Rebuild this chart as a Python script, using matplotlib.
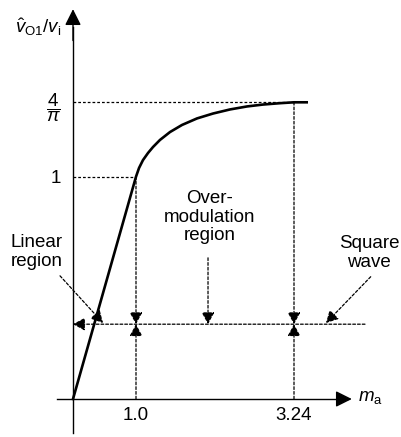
import numpy as np
from matplotlib import pyplot as plt

# Dados (esquemático: índice de modulação vs. amplitude da fundamental)
ma_curve = [0.0, 1.0, 1.043, 1.099, 1.170, 1.241, 1.340, 1.482, 1.652, 1.865,
            2.092, 2.333, 2.574, 2.801, 3.043, 3.24, 3.42]
v_curve = [0.0, 1.0, 1.032, 1.061, 1.087, 1.109, 1.135, 1.164, 1.190, 1.214,
           1.232, 1.247, 1.258, 1.265, 1.270, 4 / np.pi, 4 / np.pi]
x_ticks = [1.0, 3.24]
x_ticklabels = ['1.0', '3.24']
y_ticks = [1.0, 4 / np.pi]
y_ticklabels = ['1', r'$\dfrac{4}{\pi}$']

# Escala do desenho (o eixo não é linear no esquema original)
X_DATA = [-10.0, 0.0, 1.0, 3.24, 20.0]
X_POS = [-557.0, 73.0, 136.0, 294.0, 1475.6]
Y_DATA = [-10.0, 0.0, 1.0, 4 / np.pi, 20.0]
Y_POS = [-2619.0, -399.0, -176.7, -102.3, 5000.8]

W, H = 402, 437

plt.rcParams['font.family'] = ['Liberation Sans', 'DejaVu Sans']
plt.rcParams['mathtext.fontset'] = 'custom'
plt.rcParams['mathtext.rm'] = 'Liberation Sans'
plt.rcParams['mathtext.it'] = 'Liberation Sans:italic'
FS = 13.5
DASH = (0, (2.2, 1.6))


def px(x, y):
    """posição em pixels -> fração da figura"""
    return x / W, 1 - y / H


def seta(ax, xy, xytext):
    """seta tracejada com ponta cheia"""
    ax.annotate('', xy=xy, xytext=xytext,
                arrowprops=dict(arrowstyle='-|>,head_length=0.65,head_width=0.35', color='k', lw=0.9,
                                linestyle=DASH, shrinkA=0, shrinkB=0, mutation_scale=11))


fig = plt.figure(figsize=(W / 100, H / 100), dpi=100)
ax = fig.add_axes([0, 0, 1, 1])
ax.patch.set_alpha(0)

ax.set_xscale('function', functions=(lambda v: np.interp(v, X_DATA, X_POS),
                                     lambda p: np.interp(p, X_POS, X_DATA)))
ax.set_yscale('function', functions=(lambda v: np.interp(v, Y_DATA, Y_POS),
                                     lambda p: np.interp(p, Y_POS, Y_DATA)))
ax.set_xlim(np.interp(0, X_POS, X_DATA), np.interp(W, X_POS, X_DATA))
ax.set_ylim(np.interp(-H, Y_POS, Y_DATA), np.interp(0, Y_POS, Y_DATA))

# Eixos
for side in ['top', 'right']:
    ax.spines[side].set_visible(False)
ax.spines['left'].set_position(('data', 0))
ax.spines['bottom'].set_position(('data', 0))
ax.spines['left'].set_bounds(-0.153, 1.55)
ax.spines['bottom'].set_bounds(-0.254, 4.0)
for side in ['left', 'bottom']:
    ax.spines[side].set_linewidth(1.0)

arrow_axis = dict(arrowstyle='-|>,head_length=0.7,head_width=0.35', color='k', lw=1.0,
                  shrinkA=0, shrinkB=0, mutation_scale=14)
ax.annotate('', xy=(4.06, 0), xytext=(3.9, 0), arrowprops=arrow_axis)
ax.annotate('', xy=(0, 1.615), xytext=(0, 1.5), arrowprops=arrow_axis)

ax.set_xticks(x_ticks)
ax.set_xticklabels(x_ticklabels, fontsize=FS)
ax.set_yticks(y_ticks)
ax.set_yticklabels(y_ticklabels, fontsize=FS)
ax.tick_params(axis='x', length=0, pad=6)
ax.tick_params(axis='y', length=0, pad=9)

# Curva
ax.plot(ma_curve, v_curve, color='k', lw=1.9, solid_joinstyle='round', zorder=3)

# Linhas auxiliares
ax.plot([0, x_ticks[0]], [y_ticks[0], y_ticks[0]], color='k', lw=0.9, linestyle=DASH)
ax.plot([0, x_ticks[1]], [y_ticks[1], y_ticks[1]], color='k', lw=0.9, linestyle=DASH)

h = 0.3365
seta(ax, (0, h), (4.247, h))
for xt, yt in zip(x_ticks, y_ticks):
    seta(ax, (xt, h), (xt, yt))
    seta(ax, (xt, h), (xt, 0))
seta(ax, (2.021, h), (2.021, 0.635))
seta(ax, (0.476, 0.342), (-0.206, 0.554))
seta(ax, (3.694, 0.342), (4.328, 0.55))

# Textos
fig.text(*px(38, 27), r'$\hat{v}_{\mathrm{O1}}/v_{\mathrm{i}}$', fontsize=FS, ha='center', va='center')
fig.text(*px(358, 397), r'$m_{\mathrm{a}}$', fontsize=FS, ha='left', va='center')
fig.text(*px(37, 252), 'Linear\nregion', fontsize=FS, ha='center', va='center', linespacing=1.15)
fig.text(*px(210, 217), 'Over-\nmodulation\nregion', fontsize=FS, ha='center', va='center', linespacing=1.15)
fig.text(*px(369, 253), 'Square\nwave', fontsize=FS, ha='center', va='center', linespacing=1.15)

fig.savefig('out.png', dpi=100)
